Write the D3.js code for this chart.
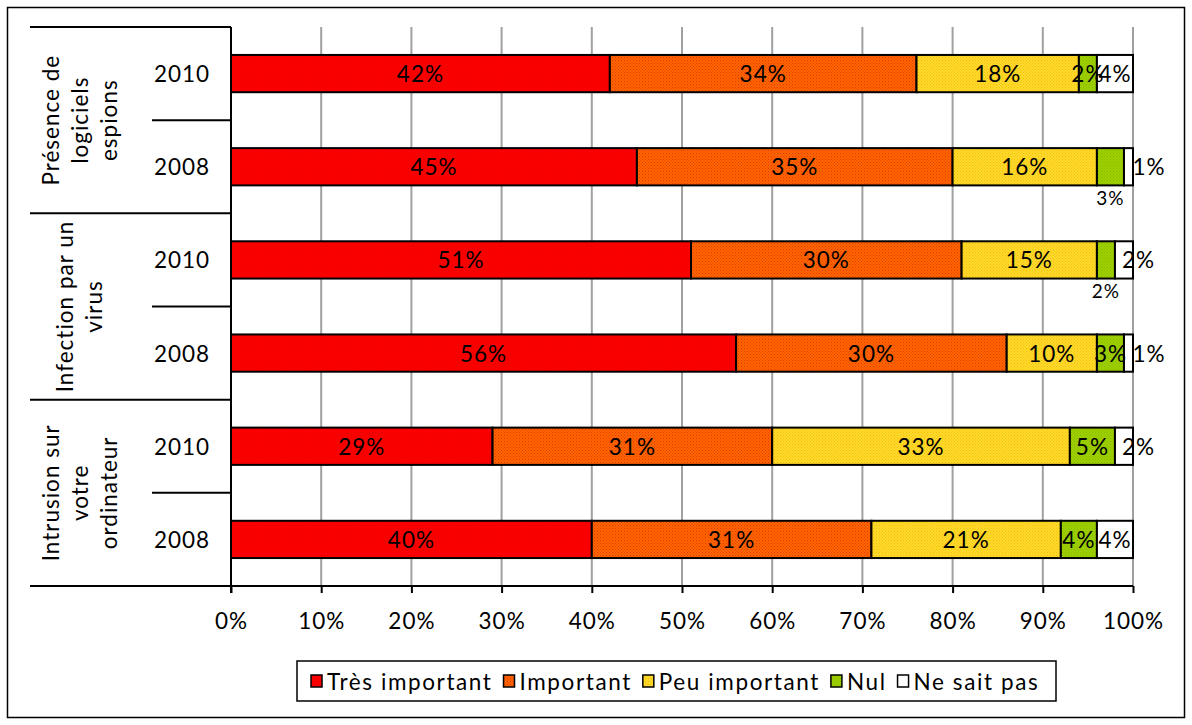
<!DOCTYPE html>
<html><head><meta charset="utf-8">
<script src="https://cdn.jsdelivr.net/npm/d3@7"></script>
<style>body{margin:0;background:#fff;} text{font-family:Lato, "Liberation Sans", sans-serif; letter-spacing:1px;}</style>
</head><body>
<svg id="c" width="1192" height="725"></svg>
<script>
const groups = [["Présence de","logiciels","espions"],["Infection par un","virus"],["Intrusion sur","votre","ordinateur"]];
const years = ["2010","2008"];
const rows = ["P2010","P2008","I2010","I2008","N2010","N2008"];
const seriesNames = ["Très important","Important","Peu important","Nul","Ne sait pas"];
const tresImportant = [42,45,51,56,29,40];
const important = [34,35,30,30,31,31];
const peuImportant = [18,16,15,10,33,21];
const nul = [2,3,2,3,5,4];
const neSaitPas = [4,1,2,1,2,4];
// label placement for each series/row: c = centered, b = below, r = right
const labelPlacement = [
  ["c","c","c","c","c","c"],
  ["c","c","c","c","c","c"],
  ["c","c","c","c","c","c"],
  ["c","b","b","c","c","c"],
  ["c","r","r","r","r","c"]
];
const xTicks = [0,10,20,30,40,50,60,70,80,90,100];
const FS = 22.5;

const svg = d3.select("#c");
svg.append("rect").attr("x",7.5).attr("y",7.5).attr("width",1177).attr("height",710).attr("fill","#fff").attr("stroke","#000").attr("stroke-width",1.5);

const defs = svg.append("defs");
const pats = [["#ff0000","#e60000"],["#ff6600","#e03a00"],["#ffd92e","#f2c200"],["#9fd000","#86b800"],["#ffffff","#ffffff"]];
pats.forEach((p,i)=>{
  const pt = defs.append("pattern").attr("id","p"+i).attr("width",3).attr("height",3).attr("patternUnits","userSpaceOnUse");
  pt.append("rect").attr("width",3).attr("height",3).attr("fill",p[0]);
  pt.append("rect").attr("x",0).attr("y",0).attr("width",1).attr("height",1).attr("fill",p[1]);
  pt.append("rect").attr("x",1.5).attr("y",1.5).attr("width",1).attr("height",1).attr("fill",p[1]);
});

const x = d3.scaleLinear().domain([0,100]).range([231,1133]);
const y = d3.scaleBand().domain(rows).range([27,586]).paddingInner(0.6).paddingOuter(0.3);

// gridlines
svg.append("g").selectAll("line").data(xTicks.slice(1)).join("line")
  .attr("x1",d=>x(d)).attr("x2",d=>x(d)).attr("y1",27).attr("y2",586)
  .attr("stroke","#a0a0a0").attr("stroke-width",2);

const seriesVals = [tresImportant,important,peuImportant,nul,neSaitPas];
const stackData = rows.map((r,i)=>{const o={row:r}; seriesNames.forEach((s,k)=>o[s]=seriesVals[k][i]); return o;});
const stack = d3.stack().keys(seriesNames)(stackData);

const gBars = svg.append("g");
stack.forEach((layer,k)=>{
  gBars.append("g").selectAll("rect").data(layer).join("rect")
    .attr("x",d=>x(d[0])).attr("width",d=>x(d[1])-x(d[0]))
    .attr("y",d=>y(d.data.row)).attr("height",y.bandwidth())
    .attr("fill","url(#p"+k+")").attr("stroke","#000").attr("stroke-width",2);
});
stack.forEach((layer,k)=>{
  gBars.append("g").selectAll("text").data(layer).join("text")
    .attr("x",(d,i)=>{const pl=labelPlacement[k][i]; const cx=(x(d[0])+x(d[1]))/2; return pl==="r"? cx+ (seriesVals[k][i]===1 ? 4 : -2) : cx;})
    .attr("y",(d,i)=>{const pl=labelPlacement[k][i]; const cy=y(d.data.row)+y.bandwidth()/2; return pl==="b"? cy+31 : cy;})
    .attr("text-anchor",(d,i)=>labelPlacement[k][i]==="r"?"start":"middle")
    .attr("dominant-baseline","central")
    .attr("font-size",(d,i)=>labelPlacement[k][i]==="b"?19:FS)
    .attr("fill","#000")
    .text((d,i)=>seriesVals[k][i]+"%");
});

// x axis
const axis = d3.axisBottom(x).tickValues(xTicks).tickFormat(d=>d+"%").tickSize(7).tickPadding(20);
const ga = svg.append("g").attr("transform","translate(0,586)").call(axis);
ga.select(".domain").remove();
ga.selectAll("line").attr("stroke","#000").attr("stroke-width",2);
ga.selectAll("text").attr("font-size",FS).attr("fill","#000").attr("font-family","Lato, sans-serif");
svg.append("line").attr("x1",30).attr("x2",1133).attr("y1",586).attr("y2",586).attr("stroke","#000").attr("stroke-width",2);
svg.append("line").attr("x1",231).attr("x2",231).attr("y1",27).attr("y2",593).attr("stroke","#000").attr("stroke-width",2);

// category separators
const groupH = (586-27)/3;
[0,1,2].forEach(g=>{
  svg.append("line").attr("x1",30).attr("x2",231).attr("y1",27+g*groupH).attr("y2",27+g*groupH).attr("stroke","#000").attr("stroke-width",2);
  svg.append("line").attr("x1",152).attr("x2",231).attr("y1",27+g*groupH+groupH/2).attr("y2",27+g*groupH+groupH/2).attr("stroke","#000").attr("stroke-width",2);
});
// years
rows.forEach((r,i)=>{
  svg.append("text").attr("x",182).attr("y",y(r)+y.bandwidth()/2).attr("text-anchor","middle").attr("dominant-baseline","central")
    .attr("font-size",FS).text(years[i%2]);
});
// group labels rotated
groups.forEach((lines,g)=>{
  const cy = 27+g*groupH+groupH/2;
  const n = lines.length; const lh = 29; const cx = 79;
  const t = svg.append("text").attr("transform",`translate(${cx},${cy}) rotate(-90)`).attr("text-anchor","middle").attr("font-size",FS);
  lines.forEach((l,j)=>{
    t.append("tspan").attr("x",0).attr("y",(j-(n-1)/2)*lh).attr("dominant-baseline","central").text(l);
  });
});

// legend
const lg = svg.append("g");
lg.append("rect").attr("x",297).attr("y",661).attr("width",759).attr("height",40).attr("fill","#fff").attr("stroke","#000").attr("stroke-width",1.5);
let lx = 311;
seriesNames.forEach((s,k)=>{
  lg.append("rect").attr("x",lx).attr("y",675).attr("width",11).attr("height",12).attr("fill","url(#p"+k+")").attr("stroke","#000").attr("stroke-width",1.5);
  const t = lg.append("text").attr("x",lx+16).attr("y",681).attr("dominant-baseline","central").attr("font-size",FS).style("letter-spacing","1.6px").text(s);
  lx += 16 + t.node().getComputedTextLength() + 11;
});
</script>
</body></html>
